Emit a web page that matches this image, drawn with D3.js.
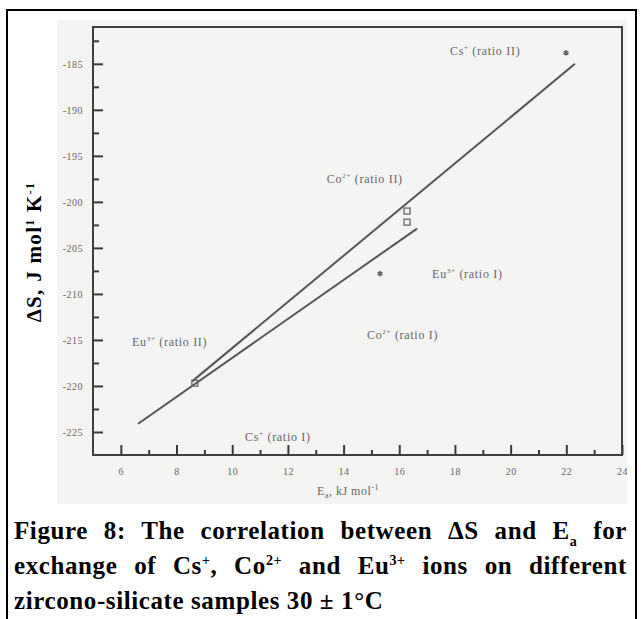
<!DOCTYPE html>
<html>
<head>
<meta charset="utf-8">
<script src="https://cdn.jsdelivr.net/npm/d3@7"></script>
<style>
body { margin: 0; background: #fff; }
svg { display: block; }
</style>
</head>
<body>
<svg class="container" width="641" height="619"></svg>
<script>
// values
let xTicks = [6, 8, 10, 12, 14, 16, 18, 20, 22, 24];
let xMinorTicks = [7, 9, 11, 13, 15, 17, 19, 21, 23];
let yTicks = [-185, -190, -195, -200, -205, -210, -215, -220, -225];
let yMinorTicks = [-182.5, -187.5, -192.5, -197.5, -202.5, -207.5, -212.5, -217.5, -222.5];

let upperLineE = [8.56, 22.31];
let upperLineS = [-219.5, -185.0];
let lowerLineE = [6.62, 16.64];
let lowerLineS = [-224.1, -202.9];

let starE = [21.99, 15.31];
let starS = [-183.8, -207.8];
let squareE = [8.66, 16.28, 16.28];
let squareS = [-219.7, -201.0, -202.2];

let labelIon = ["Cs", "Co", "Eu", "Co", "Eu", "Cs"];
let labelCharge = ["+", "2+", "3+", "2+", "3+", "+"];
let labelRatio = ["(ratio II)", "(ratio II)", "(ratio I)", "(ratio I)", "(ratio II)", "(ratio I)"];
let labelE = [17.82, 13.4, 17.18, 14.84, 6.4, 10.46];
let labelS = [-183.6, -197.5, -207.8, -214.5, -215.2, -225.5];

let plotLeft = 93, plotRight = 622, plotTop = 27, plotBottom = 455;
let serif = "'Liberation Serif', 'DejaVu Serif', serif";
let scanGrey = "#555";

let svg = d3.select(".container");
let x = d3.scaleLinear().domain([5, 24]).range([plotLeft, plotRight]);
let y = d3.scaleLinear().domain([-227.5, -181]).range([plotBottom, plotTop]);

// outer frame of the figure
svg.append("rect")
    .attr("x", 7).attr("y", 10)
    .attr("width", 629).attr("height", 640)
    .style("fill", "none")
    .style("stroke", "#000")
    .style("stroke-width", 2);

// the scanned picture area
svg.append("clipPath").attr("id", "scan")
    .append("rect")
    .attr("x", 57).attr("y", 20).attr("width", 570).attr("height", 484);
let scan = svg.append("g").attr("clip-path", "url(#scan)");
scan.append("rect")
    .attr("x", 57).attr("y", 20).attr("width", 570).attr("height", 484)
    .style("fill", "#f4f4f2");

drawAxes(scan);
drawLines(scan);
drawMarkers(scan);
drawLabels(scan);
drawTitles();
drawCaption();

function drawAxes(g) {
    g.append("g")
        .attr("transform", "translate(0," + plotBottom + ")")
        .call(d3.axisBottom(x).tickValues(xTicks).tickSize(-10).tickSizeOuter(0)
            .tickPadding(13).tickFormat(d => String(d)));
    g.append("g")
        .attr("transform", "translate(0," + plotBottom + ")")
        .call(d3.axisBottom(x).tickValues(xMinorTicks).tickSize(-5).tickSizeOuter(0)
            .tickFormat(""));
    g.append("g")
        .attr("transform", "translate(" + plotLeft + ",0)")
        .call(d3.axisLeft(y).tickValues(yTicks).tickSize(-10).tickSizeOuter(0)
            .tickPadding(10).tickFormat(d => String(d)));
    g.append("g")
        .attr("transform", "translate(" + plotLeft + ",0)")
        .call(d3.axisLeft(y).tickValues(yMinorTicks).tickSize(-6).tickSizeOuter(0)
            .tickFormat(""));

    g.selectAll(".domain").remove();
    g.selectAll(".tick line").style("stroke", "#3a3a3a").style("stroke-width", 2);
    g.selectAll(".tick text")
        .style("font-family", serif)
        .style("font-size", "10px")
        .style("letter-spacing", "0.5px")
        .style("fill", "#666");

    // box around the plot
    g.append("rect")
        .attr("x", plotLeft).attr("y", plotTop)
        .attr("width", plotRight - plotLeft).attr("height", plotBottom - plotTop)
        .style("fill", "none")
        .style("stroke", "#3f3f3f")
        .style("stroke-width", 2);
}

function drawLines(g) {
    let lines = [
        d3.zip(upperLineE, upperLineS),
        d3.zip(lowerLineE, lowerLineS)
    ];
    g.selectAll("path.fit")
        .data(lines)
        .enter()
        .append("path")
        .attr("class", "fit")
        .attr("d", d3.line().x(d => x(d[0])).y(d => y(d[1])))
        .style("fill", "none")
        .style("stroke", scanGrey)
        .style("stroke-width", 2);
}

function drawMarkers(g) {
    g.selectAll("path.star")
        .data(d3.zip(starE, starS))
        .enter()
        .append("path")
        .attr("class", "star")
        .attr("transform", d => "translate(" + x(d[0]) + "," + y(d[1]) + ")")
        .attr("d", d3.symbol(d3.symbolAsterisk, 22))
        .style("fill", "none")
        .style("stroke", "#666")
        .style("stroke-width", 1.6);
    g.selectAll("rect.square")
        .data(d3.zip(squareE, squareS))
        .enter()
        .append("rect")
        .attr("class", "square")
        .attr("x", d => x(d[0]) - 3)
        .attr("y", d => y(d[1]) - 3)
        .attr("width", 6).attr("height", 6)
        .style("fill", "none")
        .style("stroke", "#666")
        .style("stroke-width", 1.3);
}

function drawLabels(g) {
    let label = g.selectAll("text.ion")
        .data(d3.range(labelIon.length))
        .enter()
        .append("text")
        .attr("class", "ion")
        .attr("x", i => x(labelE[i]))
        .attr("y", i => y(labelS[i]) + 4)
        .style("font-family", serif)
        .style("font-size", "12px")
        .style("letter-spacing", "0.7px")
        .style("fill", "#666");
    label.append("tspan").text(i => labelIon[i]);
    label.append("tspan").attr("dy", -5).style("font-size", "7px").text(i => labelCharge[i]);
    label.append("tspan").attr("dy", 5).text(i => " " + labelRatio[i]);
}

function drawTitles() {
    let xt = svg.append("text")
        .attr("x", 348).attr("y", 495)
        .attr("text-anchor", "middle")
        .style("font-family", serif)
        .style("font-size", "12px")
        .style("letter-spacing", "0.5px")
        .style("fill", "#666");
    xt.append("tspan").text("E");
    xt.append("tspan").attr("dy", 3).style("font-size", "8px").text("a");
    xt.append("tspan").attr("dy", -3).text(", kJ mol");
    xt.append("tspan").attr("dy", -5).style("font-size", "8px").text("-1");

    let yt = svg.append("text")
        .attr("transform", "translate(41,252) rotate(-90)")
        .attr("text-anchor", "middle")
        .style("font-family", serif)
        .style("font-weight", "bold")
        .style("font-size", "21px")
        .style("letter-spacing", "1.3px")
        .style("fill", "#000");
    yt.append("tspan").text("ΔS, J mol");
    yt.append("tspan").attr("dy", -7).style("font-size", "12px").text("1");
    yt.append("tspan").attr("dy", 7).text(" K");
    yt.append("tspan").attr("dy", -7).style("font-size", "12px").text("-1");
}

function drawCaption() {
    let lines = [
        [["Figure 8: The correlation between ΔS and E", 0], ["a", 1], [" for", 0]],
        [["exchange of Cs", 0], ["+", -1], [", Co", 0], ["2+", -1], [" and Eu", 0], ["3+", -1], [" ions on different", 0]],
        [["zircono-silicate samples 30 ± 1°C", 0]]
    ];
    let baselines = [539, 574, 609];
    let justify = [true, true, false];
    lines.forEach((parts, li) => {
        let t = svg.append("text")
            .attr("x", 14).attr("y", baselines[li])
            .style("font-family", serif)
            .style("font-weight", "bold")
            .style("font-size", "25px")
            .style("letter-spacing", "0.6px")
            .style("fill", "#000");
        let shift = 0;
        parts.forEach(p => {
            let dy = 0;
            if (p[1] == 1) dy = 7 - shift;
            else if (p[1] == -1) dy = -9 - shift;
            else dy = -shift;
            shift += dy;
            t.append("tspan")
                .attr("dy", dy)
                .style("font-size", p[1] == 0 ? "25px" : "14px")
                .text(p[0]);
        });
        if (justify[li]) {
            let natural = t.node().getComputedTextLength();
            let spaces = t.text().split(" ").length - 1;
            t.style("word-spacing", ((627 - 14 - natural) / spaces) + "px");
        }
    });
}
</script>
</body>
</html>
